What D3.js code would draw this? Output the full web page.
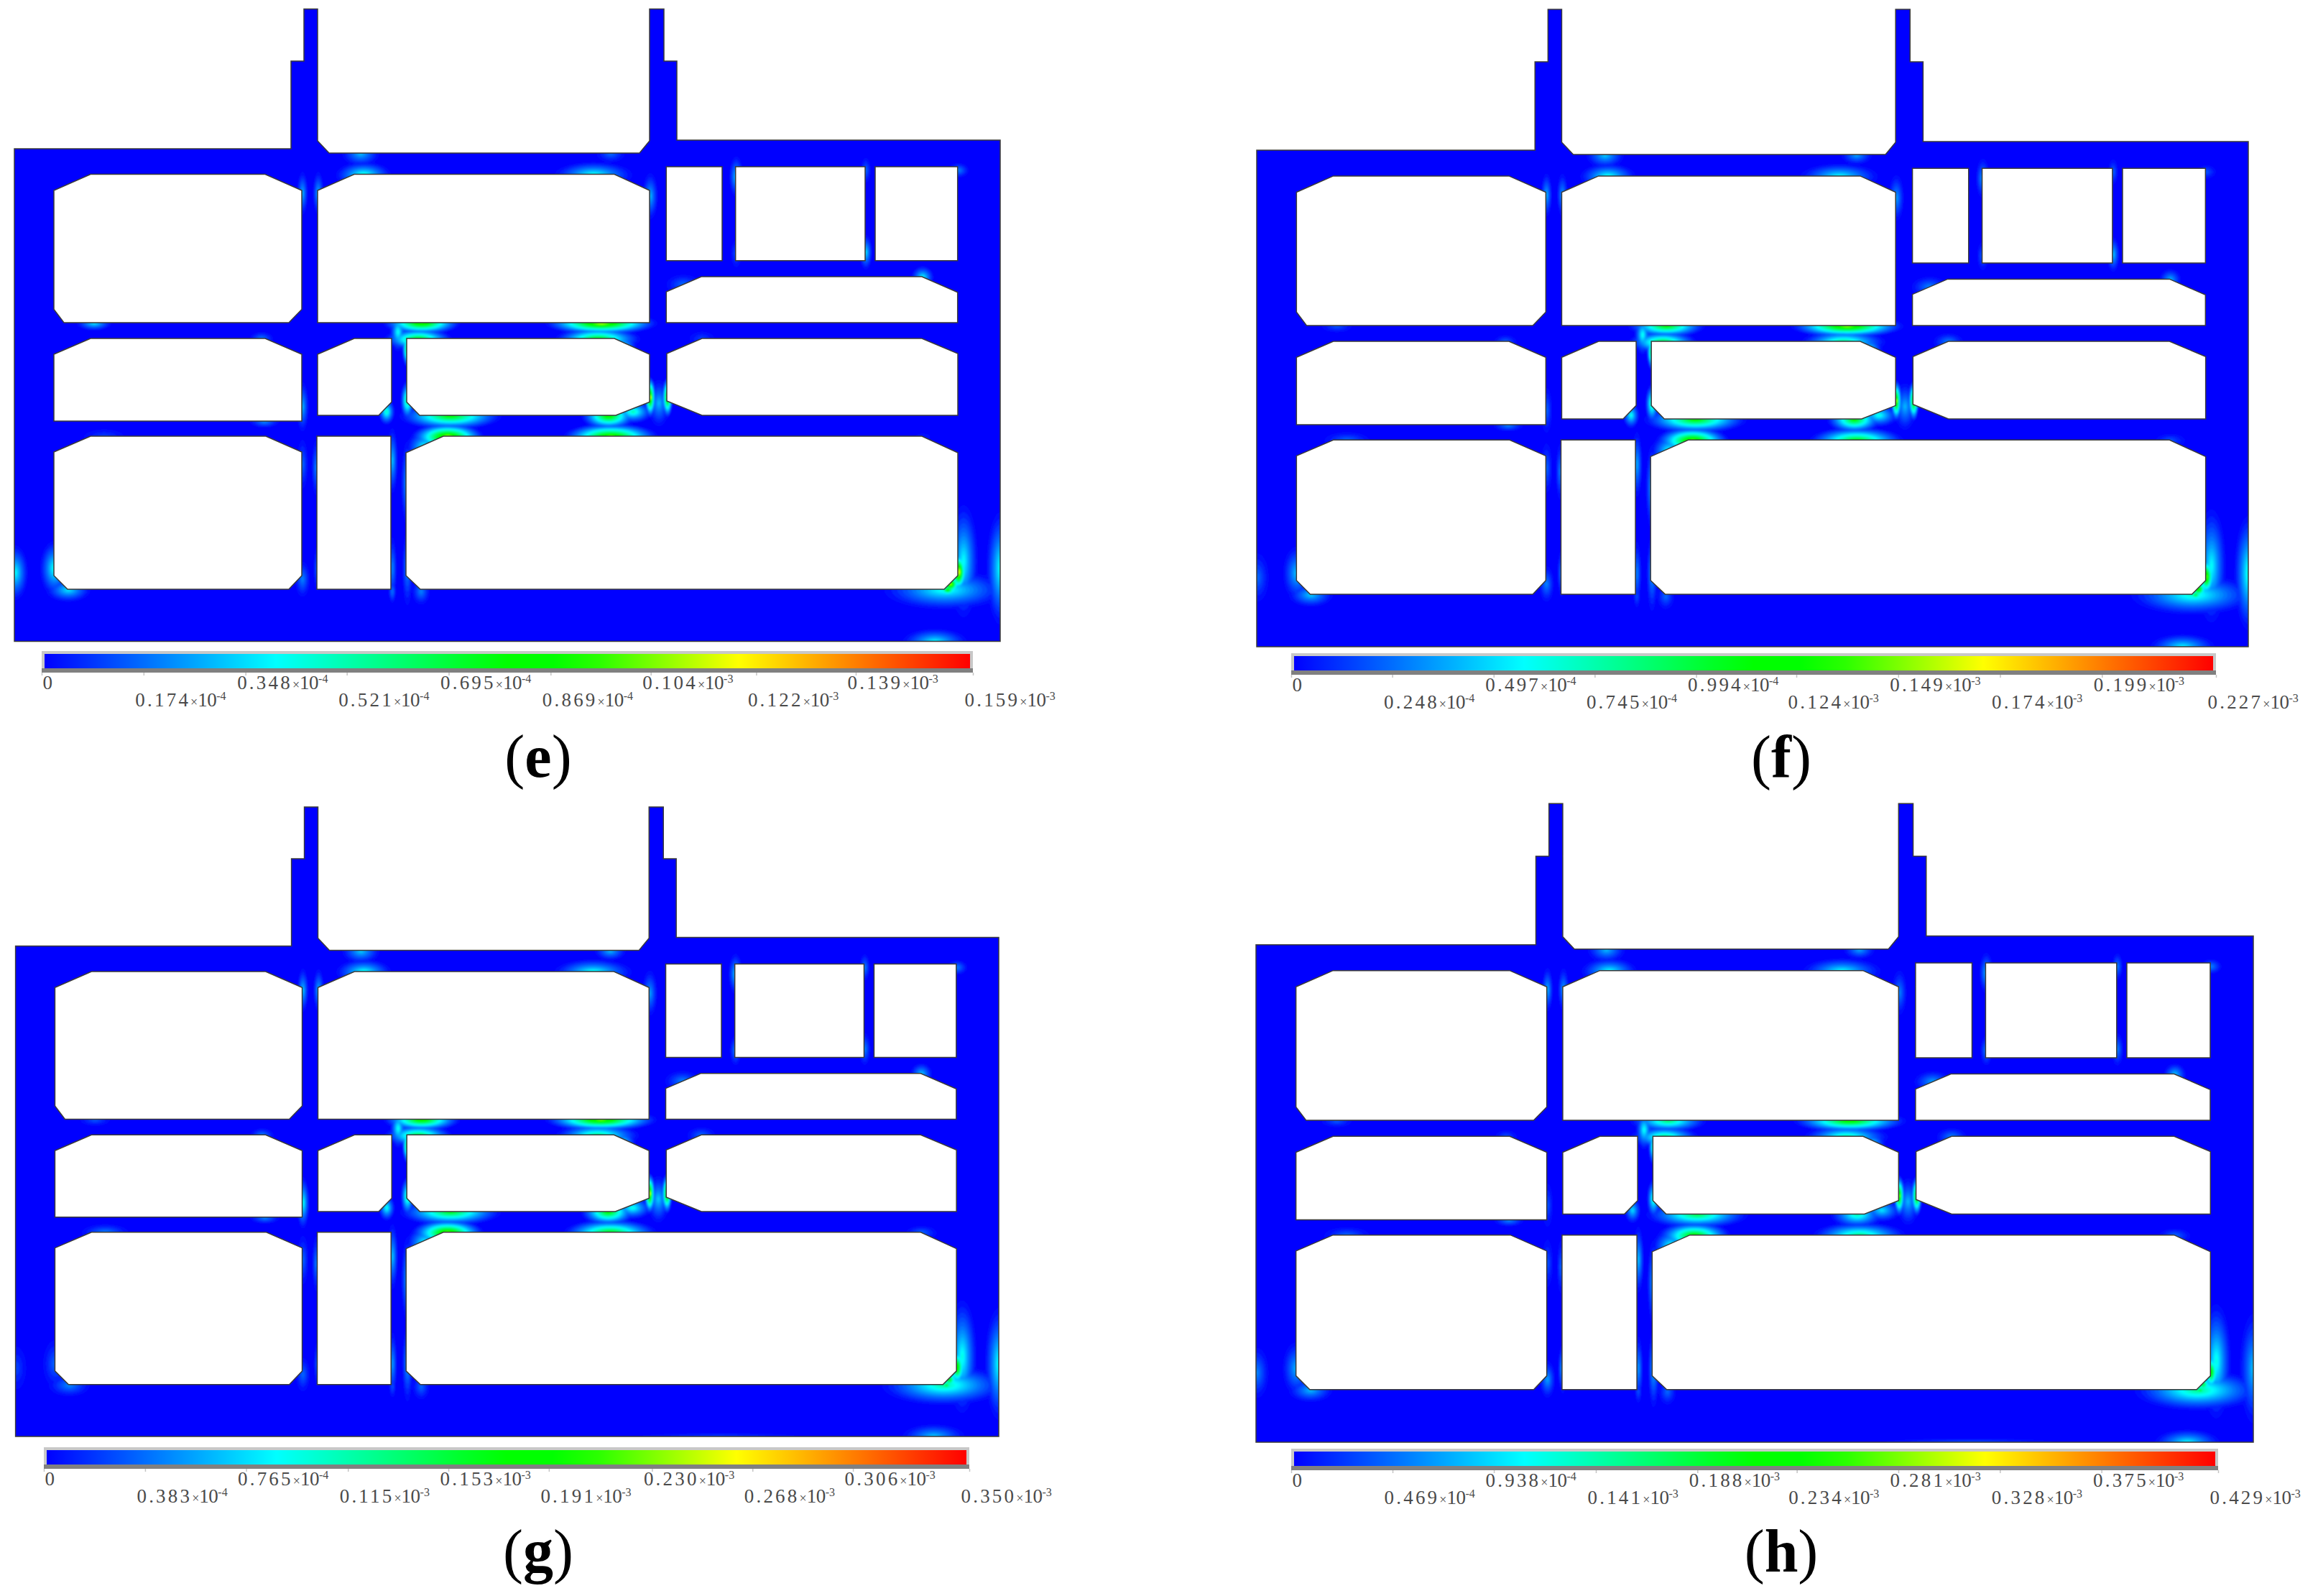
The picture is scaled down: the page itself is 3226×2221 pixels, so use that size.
<!DOCTYPE html>
<html>
<head>
<meta charset="utf-8">
<script src="https://cdn.jsdelivr.net/npm/d3@7"></script>
<style>
	html, body { margin: 0; background: #fff; }
	svg { display: block; }
</style>
</head>
<body>
<script>
// Section outline, in section units
const outerOutline = [
	[20, 207], [405, 207], [405, 85], [423, 85], [423, 12.6], [442, 12.6], [442, 196], [458, 213],
	[890, 213], [904, 196], [904, 12.6], [924, 12.6], [924, 85], [942, 85], [942, 195], [1392, 195],
	[1392, 892.5], [20, 892.5],
];
const holes = [
	[[75, 265], [126, 242.6], [369, 242.6], [420, 265], [420, 430.5], [402, 449], [89, 449], [75, 430.5]],
	[[442, 265], [493, 242.6], [855, 242.6], [904, 265], [904, 449], [442, 449]],
	[[927.3, 232], [1005, 232], [1005, 362.7], [927.3, 362.7]],
	[[1023.7, 232], [1204, 232], [1204, 362.7], [1023.7, 362.7]],
	[[1218, 232], [1332.7, 232], [1332.7, 362.7], [1218, 362.7]],
	[[927.3, 406], [976, 385], [1283, 385], [1332.7, 406.7], [1332.7, 449], [927.3, 449]],
	[[75, 493], [126, 471], [369, 471], [420, 493], [420, 586], [75, 586]],
	[[442, 493], [493, 471], [545, 471], [545, 559.5], [527, 578], [442, 578]],
	[[566, 471], [855, 471], [904, 493], [904, 559.5], [857, 578], [584, 578], [566, 559.5]],
	[[928, 492], [977, 471], [1283, 471], [1333, 492], [1333, 578], [977, 578], [928, 558]],
	[[75, 629], [126, 607], [370, 607], [420, 629], [420, 801], [402, 820], [94, 820], [75, 801]],
	[[441, 607], [544, 607], [544, 820], [441, 820]],
	[[565, 630], [617, 607], [1283, 607], [1333, 630], [1333, 801], [1314, 820], [585, 820], [565, 801]],
];

// Stress hot spots: centre and reach in section units
const hotX = [501, 505, 849, 825, 420, 442, 904, 1023.7, 1204, 1204, 1333, 1283, 950, 1023.7, 130, 586, 836, 581, 831, 553, 566, 867, 904, 928, 916, 880, 626, 846, 622, 849, 590, 537, 566, 144, 367, 420, 363, 439, 420, 545, 566, 75, 94, 20, 1333, 1340, 1314, 1318, 1392, 1300, 1000, 545, 566, 585, 420, 441, 545, 1283, 976, 1322];
const hotY = [213, 242.6, 213, 242.6, 268, 268, 272, 245, 236, 350, 236, 385, 395, 352, 449, 449, 449, 471, 471, 461, 485, 480, 552, 552, 560, 572, 578, 578, 607, 607, 622, 572, 556, 607, 586, 565, 471, 650, 645, 640, 672, 790, 820, 796, 795, 780, 820, 820, 790, 892, 892, 790, 790, 822, 805, 790, 822, 607, 471, 812];
const hotRx = [24, 34, 20, 48, 7, 7, 10, 9, 7, 8, 14, 14, 24, 8, 22, 45, 65, 40, 50, 10, 6, 16, 6, 6, 14, 24, 60, 32, 42, 55, 22, 10, 8, 32, 20, 8, 16, 6, 8, 7, 8, 18, 28, 16, 10, 18, 75, 12, 18, 40, 130, 6, 7, 12, 10, 6, 5, 22, 20, 12];
const hotRy = [16, 16, 12, 16, 28, 28, 30, 26, 18, 22, 10, 14, 14, 20, 9, 13, 13, 13, 14, 24, 22, 14, 24, 24, 30, 14, 16, 16, 16, 16, 22, 16, 24, 12, 8, 32, 10, 38, 35, 42, 55, 34, 15, 34, 24, 70, 24, 8, 70, 16, 6, 42, 50, 18, 24, 32, 16, 10, 12, 12];

// Peak level of each hot spot as a share of the colour bar
const peaksE = [.2, .32, .12, .3, .2, .2, .2, .22, .12, .25, .15, .28, .12, .1, .25, .65, .75, .55, .55, .3, .55, .25, .8, .72, .2, .35, .55, .6, .75, .7, .3, .35, .45, .08, .15, .2, .15, .15, .12, .22, .2, .3, .25, .28, .85, .28, .3, .6, .3, .27, 0, .16, .16, .15, .15, .12, .15, .03, .08, .75];
const peaksF = [.22, .3, .18, .28, .2, .18, .18, .18, .12, .22, .1, .2, .15, .12, .1, .55, .72, .5, .42, .3, .55, .25, .75, .7, .2, .3, .55, .55, .7, .55, .3, .3, .4, .12, .15, .12, .12, .15, .12, .2, .2, .22, .22, .12, .72, .28, .32, .5, .32, .27, 0, .16, .18, .12, .15, .15, .1, .1, .15, .65];
const peaksG = [.22, .3, .2, .3, .22, .2, .18, .22, .15, .15, .15, .22, .15, .15, .1, .62, .7, .5, .42, .3, .55, .25, .8, .7, .22, .3, .5, .55, .7, .55, .3, .3, .4, .15, .15, .3, .15, .15, .12, .22, .2, .12, .15, .08, .65, .3, .36, .5, .3, .22, .08, .18, .18, .12, .12, .12, .1, .12, .12, .55];
const peaksH = [.2, .28, .18, .28, .2, .18, .15, .2, .15, .15, .15, .22, .18, .15, .1, .42, .6, .42, .38, .3, .4, .25, .72, .7, .2, .25, .45, .35, .6, .42, .3, .25, .35, .12, .15, .1, .1, .12, .1, .22, .2, .2, .2, .15, .6, .3, .38, .5, .22, .27, .1, .18, .2, .12, .18, .2, .1, .12, .15, .5];

// Colour bar tick values per panel
const ticksE = [0, .174e-4, .348e-4, .521e-4, .695e-4, .869e-4, .104e-3, .122e-3, .139e-3, .159e-3];
const ticksF = [0, .248e-4, .497e-4, .745e-4, .994e-4, .124e-3, .149e-3, .174e-3, .199e-3, .227e-3];
const ticksG = [0, .383e-4, .765e-4, .115e-3, .153e-3, .191e-3, .230e-3, .268e-3, .306e-3, .350e-3];
const ticksH = [0, .469e-4, .938e-4, .141e-3, .188e-3, .234e-3, .281e-3, .328e-3, .375e-3, .429e-3];

const panelLetters = ["e", "f", "g", "h"];
const panelPeaks = [peaksE, peaksF, peaksG, peaksH];
const panelTicks = [ticksE, ticksF, ticksG, ticksH];

const width = 3226;
const height = 2221;

// Where each panel lands on the page
const layout = [
	{ x: [20, 1392], y: [207, 892.5], bar: [58, 1354], barTop: 906, caption: [749, 1081] },
	{ x: [1749, 3129], y: [209, 900], bar: [1797, 3084], barTop: 909, caption: [2479, 1082] },
	{ x: [21.6, 1390], y: [1316.5, 1999], bar: [61, 1349], barTop: 2014, caption: [749, 2187] },
	{ x: [1748, 3136], y: [1314.7, 2007], bar: [1797, 3087], barTop: 2016, caption: [2479, 2187] },
];

const jet = d3
	.scaleLinear()
	.domain([0, 0.25, 0.49, 0.57, 0.75, 1])
	.range(["#0000ff", "#00ffff", "#00ff00", "#00ff00", "#ffff00", "#ff0000"]);

const svg = d3
	.select("body")
	.append("svg")
	.attr("viewBox", [0, 0, width, height])
	.attr("width", width)
	.attr("height", height);

const defs = svg.append("defs");
defs.append("filter")
	.attr("id", "soft")
	.attr("x", "-2%")
	.attr("y", "-2%")
	.attr("width", "104%")
	.attr("height", "104%")
	.append("feGaussianBlur")
	.attr("stdDeviation", 1);

// Build the field on a grid, keeping the strongest hot spot at each cell
const cell = 2;
const gridW = Math.ceil(1400 / cell);
const gridH = Math.ceil(900 / cell);
const spread = 1.3; // pale tails reach further than the read extent
const falloff = 1.5; // level drops fast near the peak, then tails off

function buildField(peaks) {
	const grid = new Float64Array(gridW * gridH);
	peaks.forEach((peak, k) => {
		if (peak <= 0) return;
		const rx = hotRx[k] * spread;
		const ry = hotRy[k] * spread;
		const i0 = Math.max(0, Math.floor((hotX[k] - rx) / cell));
		const i1 = Math.min(gridW - 1, Math.ceil((hotX[k] + rx) / cell));
		const j0 = Math.max(0, Math.floor((hotY[k] - ry) / cell));
		const j1 = Math.min(gridH - 1, Math.ceil((hotY[k] + ry) / cell));
		for (let j = j0; j <= j1; j++) {
			for (let i = i0; i <= i1; i++) {
				const d = Math.hypot((i * cell - hotX[k]) / rx, (j * cell - hotY[k]) / ry);
				if (d >= 1) continue;
				const v = peak * Math.pow(1 - d, falloff);
				if (v > grid[i + j * gridW]) grid[i + j * gridW] = v;
			}
		}
	});
	return grid;
}

const thresholds = d3.range(0.015, 1, 0.02);

function drawSection(g, i) {
	const box = layout[i];
	const x = d3.scaleLinear().domain([20, 1392]).range(box.x);
	const y = d3.scaleLinear().domain([207, 892.5]).range(box.y);
	const ring = (pts) => d3.line().x((d) => x(d[0])).y((d) => y(d[1]))(pts) + "Z";
	const sectionPath = [outerOutline, ...holes].map(ring).join("");

	defs.append("clipPath")
		.attr("id", `clip-${panelLetters[i]}`)
		.append("path")
		.attr("clip-rule", "evenodd")
		.attr("d", sectionPath);

	g.append("path").attr("fill", "#0000ff").attr("fill-rule", "evenodd").attr("d", sectionPath);

	// Contour bands of the field
	const project = d3.geoTransform({
		point(px, py) {
			this.stream.point(x(px * cell), y(py * cell));
		},
	});
	const bands = d3.contours().size([gridW, gridH]).thresholds(thresholds)(buildField(panelPeaks[i]));

	g.append("g")
		.attr("clip-path", `url(#clip-${panelLetters[i]})`)
		.append("g")
		.attr("filter", "url(#soft)")
		.selectAll("path")
		.data(bands)
		.join("path")
		.attr("fill", (d) => jet(d.value))
		.attr("d", d3.geoPath(project));

	// Outline on top
	g.append("path")
		.attr("fill", "none")
		.attr("fill-rule", "evenodd")
		.attr("stroke", "#3a3a3a")
		.attr("stroke-width", 1.5)
		.attr("d", sectionPath);
}

function drawColorBar(g, i) {
	const box = layout[i];
	const ticks = panelTicks[i];
	const top = box.barTop;
	const scale = d3.scaleLinear().domain([0, ticks[ticks.length - 1]]).range(box.bar);

	// Grey bevelled frame
	g.append("rect")
		.attr("x", box.bar[0])
		.attr("y", top)
		.attr("width", box.bar[1] - box.bar[0])
		.attr("height", 30)
		.attr("fill", "#c8c8c8");
	g.append("rect")
		.attr("x", box.bar[0])
		.attr("y", top + 24)
		.attr("width", box.bar[1] - box.bar[0])
		.attr("height", 6)
		.attr("fill", "#808080");

	const gradient = defs
		.append("linearGradient")
		.attr("id", `bar-${panelLetters[i]}`);
	gradient
		.selectAll("stop")
		.data(d3.range(0, 1.001, 0.05))
		.join("stop")
		.attr("offset", (d) => d)
		.attr("stop-color", (d) => jet(d));

	g.append("rect")
		.attr("x", box.bar[0] + 4)
		.attr("y", top + 4)
		.attr("width", box.bar[1] - box.bar[0] - 8)
		.attr("height", 20)
		.attr("fill", `url(#bar-${panelLetters[i]})`);

	const axis = g
		.append("g")
		.attr("transform", `translate(0,${top + 30})`)
		.call(d3.axisBottom(scale).tickValues(ticks).tickSize(4).tickSizeOuter(0).tickFormat(""));
	axis.select(".domain").remove();
	axis.selectAll(".tick line").attr("stroke", "#c4c4c4").attr("stroke-width", 1.5);

	const labels = axis
		.selectAll(".tick text")
		.attr("fill", "#4a4a4a")
		.attr("font-family", "'Liberation Serif', serif")
		.attr("font-size", 27)
		.attr("text-anchor", "start")
		.attr("x", (d) => (d === 0 ? 1 : -12))
		.attr("dy", null)
		.attr("y", (d, k) => (k % 2 === 0 ? 23 : 47));

	labels.each(function (d) {
		const text = d3.select(this);
		if (d === 0) {
			text.text("0");
			return;
		}
		const exp = d < 1e-4 ? -4 : -3;
		text.append("tspan").attr("letter-spacing", 3.2).text((d / 10 ** exp).toFixed(3));
		text.append("tspan").attr("font-size", 18).text("×");
		text.append("tspan").attr("letter-spacing", -0.5).text("10");
		text.append("tspan").attr("font-size", 16).attr("dy", -9).text(exp === -4 ? "-4" : "-3");
	});
}

panelLetters.forEach((letter, i) => {
	const g = svg.append("g").attr("class", `panel-${letter}`);
	drawSection(g, i);
	drawColorBar(g, i);

	const caption = g
		.append("text")
		.attr("x", layout[i].caption[0])
		.attr("y", layout[i].caption[1])
		.attr("text-anchor", "middle")
		.attr("font-family", "'Liberation Serif', serif")
		.attr("font-size", 84)
		.attr("fill", "#000");
	caption.append("tspan").text("(");
	caption.append("tspan").attr("font-weight", "bold").text(letter);
	caption.append("tspan").text(")");
});
</script>
</body>
</html>
